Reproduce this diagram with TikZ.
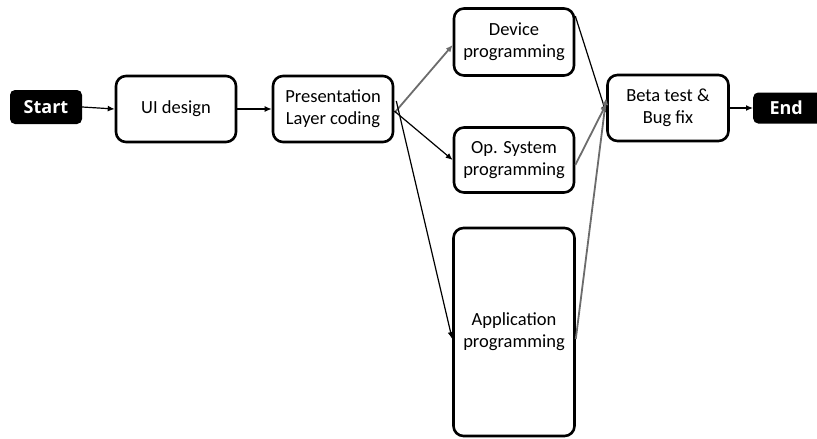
\documentclass[tikz,border=0pt]{standalone}
\usepackage{fontspec}
\setmainfont{Carlito}
\newfontfamily\termfont{Open Sans}
\usetikzlibrary{arrows.meta}
\begin{document}
\begin{tikzpicture}[x=1pt,y=-1pt,
  box/.style={draw=black,line width=2.6pt,rounded corners=10pt,fill=white,align=center,
    font=\fontsize{18.5}{22}\selectfont,inner sep=0pt},
  term/.style={fill=black,rounded corners=5pt,text=white,font=\termfont\bfseries\fontsize{18}{20}\selectfont,inner sep=0pt},
  arr/.style={line width=1.2pt,-{Latex[length=7pt,width=6pt]}},
  garr/.style={draw=gray!85!black,line width=1.8pt,-{Latex[length=7pt,width=6pt]}}]
\useasboundingbox (0,0) rectangle (817,439);
\node[term,minimum width=72,minimum height=34] (start) at (46,107) {Start};
\node[box,minimum width=120,minimum height=66] (ui) at (176,109) {UI design};
\node[box,minimum width=120,minimum height=66] (pres) at (333,109) {Presentation\\Layer coding};
\node[box,minimum width=120,minimum height=67] (dev) at (514,42) {Device\\programming};
\node[box,minimum width=120,minimum height=65] (os) at (514,160) {Op. System\\programming};
\node[box,minimum width=121,minimum height=208] (app) at (514,332) {Application\\programming};
\node[box,minimum width=121,minimum height=66] (beta) at (668,108) {Beta test \&\\Bug fix};
\node[term,minimum width=70,minimum height=31,anchor=west] (end) at (753,108) {\hspace*{-4pt}End};
\draw[arr] (start.east) -- (ui.west);
\draw[arr] (ui.east) -- (pres.west);
\draw[garr] ([yshift=-4pt]pres.east) -- ([yshift=-3pt]dev.west);
\draw[arr] ([yshift=-2pt]pres.east) -- (os.west);
\draw[arr] ([xshift=2pt,yshift=8pt]pres.east) -- ([yshift=-7pt]app.west);
\draw[arr] ([yshift=26pt]dev.east) -- ([yshift=-5pt]beta.west);
\draw[garr] ([yshift=-5pt]os.east) -- ([yshift=4pt]beta.west);
\draw[garr] ([yshift=-7pt]app.east) -- ([yshift=10pt]beta.west);
\draw[arr] (beta.east) -- (end.west);
\end{tikzpicture}
\end{document}
